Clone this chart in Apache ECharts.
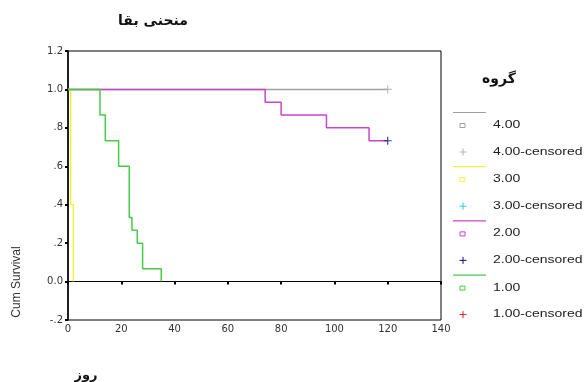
<!DOCTYPE html>
<html><head><meta charset="utf-8">
<script src="https://cdn.jsdelivr.net/npm/echarts@6/dist/echarts.min.js"></script>
<style>html,body{margin:0;padding:0;background:#fff}#c{width:588px;height:382px}</style>
</head><body><div id="c"></div>
<script>
// ---- data ----
var titleText = 'منحنی بقا';
var xName = 'روز';
var yName = 'Cum Survival';
var legendTitle = 'گروه';
var xTicks = [0, 20, 40, 60, 80, 100, 120, 140];
var yTickLabels = ['-.2', '0.0', '.2', '.4', '.6', '.8', '1.0', '1.2'];
var groupNames = ['4.00', '3.00', '2.00', '1.00'];
var censorNames = ['4.00-censored', '3.00-censored', '2.00-censored', '1.00-censored'];
var lineColors = ['#a0a0a0', '#f2f23c', '#cc44cc', '#44cc44'];
var censorColors = ['#b0b0b0', '#33cccc', '#10108c', '#d42020'];
var survival4 = [[0, 1], [120, 1]];
var censor4 = [[120, 1]];
var survival3 = [[0, 1], [1, 0.4], [2, 0]];
var censor3 = [];
var survival2 = [[0, 1], [74, 0.933], [80, 0.867], [97, 0.8], [113, 0.733], [120, 0.733]];
var censor2 = [[120, 0.733]];
var survival1 = [[0, 1], [12, 0.867], [14, 0.733], [19, 0.6], [23, 0.333], [24, 0.267], [26, 0.2], [28, 0.067], [35, 0]];
var censor1 = [];

var survivals = [survival4, survival3, survival2, survival1];
var censors = [censor4, censor3, censor2, censor1];

var plusPath = 'path://M3.4,0h1.2v3.4h3.4v1.2h-3.4v3.4h-1.2v-3.4h-3.4v-1.2h3.4z';

var chart = echarts.init(document.getElementById('c'), null, {renderer: 'canvas'});
var series = [];
for (var i = 0; i < 4; i++) {
  series.push({
    name: groupNames[i], type: 'line', step: 'end', data: survivals[i],
    showSymbol: false, symbol: 'none', silent: true,
    lineStyle: {color: lineColors[i], width: 1.5}, z: 2 + i
  });
  series.push({
    name: censorNames[i], type: 'scatter', data: censors[i],
    symbol: plusPath, symbolSize: 8, silent: true,
    itemStyle: {color: censorColors[i]}, z: 10
  });
}

// legend graphics
var graphics = [];
var lg0 = 112.5, step = 54.2;
graphics.push({type: 'text', left: 482, top: 72, style: {text: legendTitle, font: 'bold 14px "DejaVu Sans"', fill: '#111'}});
for (var k = 0; k < 4; k++) {
  var y = lg0 + k * step;
  graphics.push({type: 'line', shape: {x1: 453, y1: y, x2: 486, y2: y}, style: {stroke: lineColors[k], lineWidth: 1.2}});
  graphics.push({type: 'rect', shape: {x: 460, y: y + 11, width: 5, height: 4}, style: {stroke: lineColors[k], fill: 'none', lineWidth: 1}});
  graphics.push({type: 'text', x: 493, y: y + 12.7, scaleX: 1.4, style: {text: groupNames[k], font: '10px "Liberation Sans"', fill: '#222', verticalAlign: 'middle'}});
  var py = y + 39.5;
  graphics.push({type: 'line', shape: {x1: 459.5, y1: py, x2: 466.5, y2: py}, style: {stroke: censorColors[k], lineWidth: 1}});
  graphics.push({type: 'line', shape: {x1: 463, y1: py - 3.5, x2: 463, y2: py + 3.5}, style: {stroke: censorColors[k], lineWidth: 1}});
  graphics.push({type: 'text', x: 493, y: py, scaleX: 1.4, style: {text: censorNames[k], font: '10px "Liberation Sans"', fill: '#222', verticalAlign: 'middle'}});
}
graphics.push({type: 'text', x: 17, y: 282, rotation: Math.PI / 2, style: {text: yName, font: '12px "Liberation Sans"', fill: '#333', align: 'center', verticalAlign: 'middle'}});
graphics.push({type: 'text', x: 86, y: 376, style: {text: xName, font: 'bold 13px "DejaVu Sans"', fill: '#111', align: 'center', verticalAlign: 'middle'}});

chart.setOption({
  animation: false,
  backgroundColor: '#fff',
  title: {text: titleText, left: 148, top: 9, textAlign: 'center',
    textStyle: {fontFamily: 'DejaVu Sans', fontWeight: 'bold', fontSize: 14, color: '#111'}},
  grid: {left: 68, right: 147, top: 51, bottom: 62, show: true, borderColor: '#000', borderWidth: 1},
  xAxis: {
    type: 'value', min: xTicks[0], max: xTicks[xTicks.length - 1], interval: 20,
    axisLine: {show: true, lineStyle: {color: '#000', width: 1}},
    axisTick: {show: true, length: 3, lineStyle: {color: '#000', width: 2}},
    axisLabel: {margin: 4, fontFamily: 'DejaVu Sans', fontSize: 10, color: '#333'},
    splitLine: {show: false}
  },
  yAxis: {
    type: 'value', min: -0.2, max: 1.2, interval: 0.2,
    axisLine: {show: true, lineStyle: {color: '#000', width: 1.5}},
    axisTick: {show: true, length: 3, lineStyle: {color: '#000', width: 2}},
    axisLabel: {margin: 5, fontFamily: 'DejaVu Sans', fontSize: 10, color: '#333',
      formatter: function (v) { return yTickLabels[Math.round((v + 0.2) / 0.2)]; }},
    splitLine: {show: false}
  },
  series: series,
  graphic: graphics
});
</script></body></html>
